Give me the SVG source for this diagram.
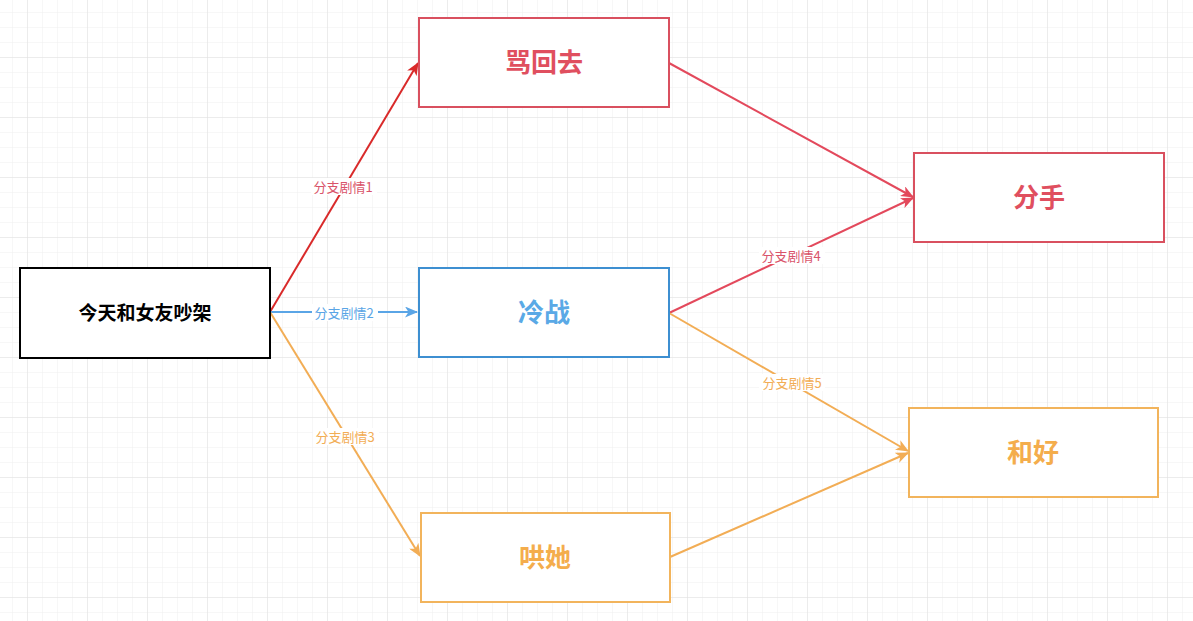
<svg xmlns="http://www.w3.org/2000/svg" width="1193" height="621" viewBox="0 0 1193 621">
<defs>
<pattern id="minor" x="-2" y="-2" width="15" height="15" patternUnits="userSpaceOnUse">
<path d="M15 0 V15 M0 15 H15" fill="none" stroke="#efefef" stroke-width="1"/>
</pattern>
<pattern id="major" x="-32" y="-2" width="60" height="60" patternUnits="userSpaceOnUse">
<path d="M60 0 V60 M0 60 H60" fill="none" stroke="#e0e0e0" stroke-width="1"/>
</pattern>
<marker id="aRed" viewBox="0 0 13 11" markerWidth="13" markerHeight="11" refX="12" refY="5.5" orient="auto" markerUnits="userSpaceOnUse"><path d="M0,0 L13,5.5 L0,11 L3.5,5.5 z" fill="#d92a2a"/></marker>
<marker id="aPink" viewBox="0 0 13 11" markerWidth="13" markerHeight="11" refX="12" refY="5.5" orient="auto" markerUnits="userSpaceOnUse"><path d="M0,0 L13,5.5 L0,11 L3.5,5.5 z" fill="#e3495c"/></marker>
<marker id="aBlue" viewBox="0 0 13 11" markerWidth="13" markerHeight="11" refX="12" refY="5.5" orient="auto" markerUnits="userSpaceOnUse"><path d="M0,0 L13,5.5 L0,11 L3.5,5.5 z" fill="#5aa5e6"/></marker>
<marker id="aOrange" viewBox="0 0 13 11" markerWidth="13" markerHeight="11" refX="12" refY="5.5" orient="auto" markerUnits="userSpaceOnUse"><path d="M0,0 L13,5.5 L0,11 L3.5,5.5 z" fill="#f2ad55"/></marker>
</defs>
<style>
.box{fill:#ffffff;stroke-width:2}
.t{font-family:"Noto Sans CJK SC","Noto Sans",sans-serif;font-weight:bold;text-anchor:middle;dominant-baseline:central}
.big{font-size:26px}
.lbl{font-family:"Noto Sans CJK SC","Noto Sans",sans-serif;font-size:13px;text-anchor:middle;dominant-baseline:central}
.edge{fill:none;stroke-width:2}
</style>
<rect width="1193" height="621" fill="#ffffff"/>
<rect width="1193" height="621" fill="url(#minor)"/>
<rect width="1193" height="621" fill="url(#major)"/>

<g id="connectors">
<line class="edge" x1="270" y1="312" x2="418" y2="63" stroke="#d92a2a" marker-end="url(#aRed)"/>
<line class="edge" x1="270" y1="312" x2="417" y2="312" stroke="#5aa5e6" stroke-width="1.6" marker-end="url(#aBlue)"/>
<line class="edge" x1="270" y1="312" x2="420" y2="556" stroke="#f2ad55" marker-end="url(#aOrange)"/>
<line class="edge" x1="669" y1="63" x2="913" y2="197" stroke="#e3495c" marker-end="url(#aPink)"/>
<line class="edge" x1="669" y1="313" x2="913" y2="198" stroke="#e3495c" marker-end="url(#aPink)"/>
<line class="edge" x1="669" y1="313" x2="908" y2="451" stroke="#f2ad55" marker-end="url(#aOrange)"/>
<line class="edge" x1="670" y1="557" x2="908" y2="453" stroke="#f2ad55" marker-end="url(#aOrange)"/>
<rect x="311" y="178" width="66" height="17" fill="#ffffff"/>
<text class="lbl" x="343" y="186" fill="#d9546a">分支剧情1</text>
<rect x="312" y="304" width="66" height="17" fill="#ffffff"/>
<text class="lbl" x="344" y="312" fill="#5aa5e6">分支剧情2</text>
<rect x="313" y="428" width="66" height="17" fill="#ffffff"/>
<text class="lbl" x="345" y="436" fill="#f2ad55">分支剧情3</text>
<rect x="759" y="247" width="66" height="17" fill="#ffffff"/>
<text class="lbl" x="791" y="255" fill="#d9546a">分支剧情4</text>
<rect x="759" y="374" width="66" height="17" fill="#ffffff"/>
<text class="lbl" x="792" y="382" fill="#f2ad55">分支剧情5</text>
</g>

<g id="start">
<rect class="box" x="20" y="268" width="250" height="90" stroke="#000000"/>
<text class="t" x="145" y="311" font-size="19" fill="#000000">今天和女友吵架</text>
</g>
<g id="scold">
<rect class="box" x="419" y="18" width="250" height="89" stroke="#d9505f"/>
<text class="t big" x="544" y="60" fill="#e04f5f">骂回去</text>
</g>
<g id="cold">
<rect class="box" x="419" y="268" width="250" height="89" stroke="#3d8fd1"/>
<text class="t big" x="544" y="310" fill="#5aa9e6">冷战</text>
</g>
<g id="coax">
<rect class="box" x="421" y="513" width="249" height="89" stroke="#f2b45c"/>
<text class="t big" x="545" y="555" fill="#f4ad4c">哄她</text>
</g>
<g id="breakup">
<rect class="box" x="914" y="153" width="250" height="89" stroke="#d9505f"/>
<text class="t big" x="1039" y="195" fill="#e04f5f">分手</text>
</g>
<g id="reconcile">
<rect class="box" x="909" y="408" width="249" height="89" stroke="#f2b45c"/>
<text class="t big" x="1033" y="450" fill="#f4ad4c">和好</text>
</g>
</svg>
